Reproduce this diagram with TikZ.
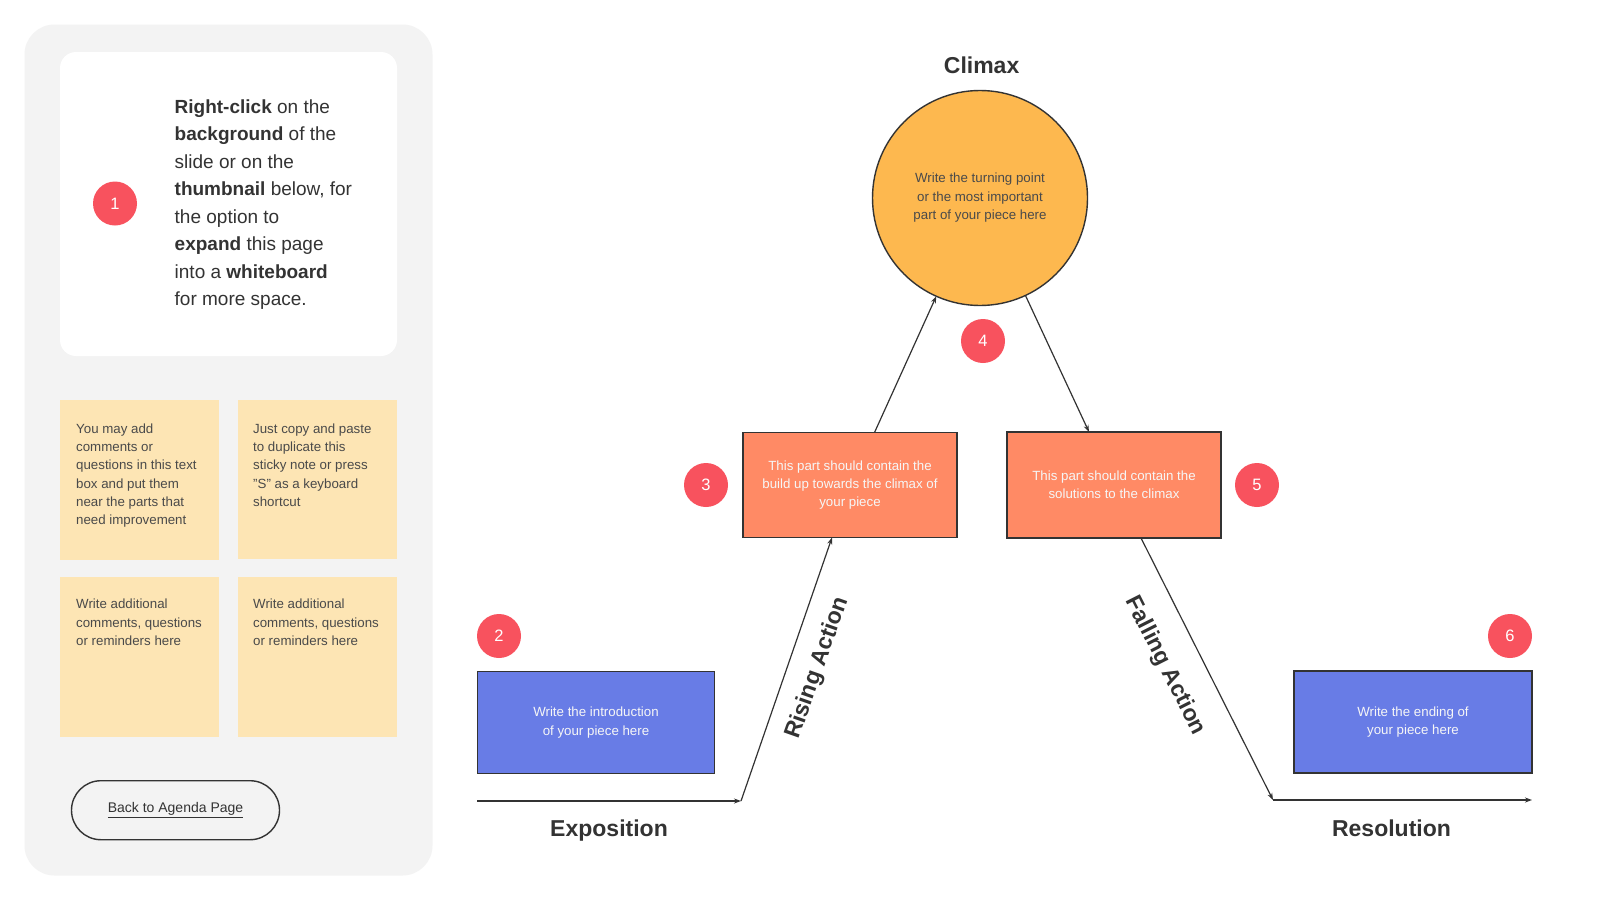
\documentclass[tikz,border=0pt]{standalone}
\usepackage{fontspec}
\setmainfont{Liberation Sans}
\usetikzlibrary{arrows.meta}
\definecolor{panel}{HTML}{F3F3F3}
\definecolor{sticky}{HTML}{FDE5B4}
\definecolor{numred}{HTML}{F8525E}
\definecolor{coral}{HTML}{FF8A65}
\definecolor{blueb}{HTML}{687CE6}
\definecolor{gold}{HTML}{FDB84F}
\definecolor{ink}{HTML}{333333}
\definecolor{soft}{HTML}{4A4A4A}
\definecolor{paletext}{HTML}{F6F6F6}
\begin{document}
\begin{tikzpicture}[x=1pt,y=-1pt,
  num/.style={circle,fill=numred,text=white,minimum size=44pt,inner sep=0,font=\fontsize{16.5}{18}\selectfont},
  partbox/.style={draw=ink,line width=1.4pt,inner sep=0,outer sep=0,text=paletext,align=center,font=\fontsize{13.3}{18.4}\selectfont},
  heading/.style={text=ink,font=\fontsize{23}{26}\selectfont\bfseries,inner sep=0},
  note/.style={fill=sticky,inner sep=0,outer sep=0,anchor=north west,minimum width=159pt,minimum height=160pt},
  notetext/.style={text=soft,align=left,anchor=north west,inner sep=0,font=\fontsize{13.3}{18.3}\selectfont},
  arr/.style={draw=ink,line width=1.2pt,-{Stealth[length=7pt,width=5pt]}},
]
\useasboundingbox (0,0) rectangle (1600,900);
\fill[white] (0,0) rectangle (1600,900);

% left panel
\fill[panel,rounded corners=30pt] (24.5,24.5) rectangle (432.5,875.5);
\fill[white,rounded corners=16pt] (60,52) rectangle (397,356);
\node[num] (n1) at (115,203.5) {1};
\node[text=ink,align=left,anchor=north west,inner sep=0,font=\fontsize{19}{27.5}\selectfont] (instr) at (174.5,99.5)
 {\textbf{Right-click} on the\\ \textbf{background} of the\\ slide or on the\\ \textbf{thumbnail} below, for\\ the option to\\ \textbf{expand} this page\\ into a \textbf{whiteboard}\\ for more space.};

\node[note] (s1) at (60,400) {};
\node[note,minimum height=159pt] (s2) at (238,400) {};
\node[note] (s3) at (60,576.5) {};
\node[note] (s4) at (238,576.5) {};
\node[notetext] (t1) at (76,423.5) {You may add\\ comments or\\ questions in this text\\ box and put them\\ near the parts that\\ need improvement};
\node[notetext] (t2) at (253,423.5) {Just copy and paste\\ to duplicate this\\ sticky note or press\\ "S" as a keyboard\\ shortcut};
\node[notetext] (t3) at (76,599) {Write additional\\ comments, questions\\ or reminders here};
\node[notetext] (t4) at (253,599) {Write additional\\ comments, questions\\ or reminders here};

\node[draw=ink,line width=1.4pt,rounded corners=29.5pt,minimum width=208pt,minimum height=59pt,inner sep=0,text=ink,font=\fontsize{14}{16}\selectfont] (back) at (175.5,810.2) {\underline{Back to Agenda Page}};

% diagram
\node[heading,anchor=base] (hclimax) at (981.6,73.3) {Climax};
\node[circle,draw=ink,line width=1.4pt,fill=gold,minimum size=215pt,inner sep=0,outer sep=0,text=soft,align=center,font=\fontsize{13.3}{18.5}\selectfont] (climax) at (980,198) {Write the turning point\\ or the most important\\ part of your piece here};
\node[num] (n4) at (983,341) {4};

\node[partbox,fill=coral,minimum width=214pt,minimum height=105pt] (box3) at (850,485) {This part should contain the\\ build up towards the climax of\\ your piece};
\node[partbox,fill=coral,minimum width=214pt,minimum height=106pt] (box5) at (1114,485) {This part should contain the\\ solutions to the climax};
\node[num] (n3) at (706,485) {3};
\node[num] (n5) at (1257,485) {5};

\node[partbox,fill=blueb,minimum width=237pt,minimum height=102pt] (box2) at (596,722.5) {Write the introduction\\ of your piece here};
\node[partbox,fill=blueb,minimum width=238pt,minimum height=102pt] (box6) at (1413,722) {Write the ending of\\ your piece here};
\node[num] (n2) at (499,636) {2};
\node[num] (n6) at (1510,636) {6};

\coordinate (e0) at (477,801);
\coordinate (e1) at (741,801);
\coordinate (f1) at (1273,800);
\coordinate (f2) at (1532,800);

\draw[arr] (e0) -- (e1);
\draw[arr] (e1) -- ([xshift=-18pt]box3.south);
\draw[arr] ([xshift=24.5pt]box3.north) -- (climax.246);
\draw[arr] (climax.295) -- ([xshift=-25pt]box5.north);
\draw[arr] ([xshift=27pt]box5.south) -- (f1);
\draw[arr] (f1) -- (f2);

\node[heading,anchor=base] (hexpo) at (609,836.7) {Exposition};
\node[heading,anchor=base] (hreso) at (1391.5,836.7) {Resolution};
\node[heading,rotate=70.6] (hrise) at (818,668) {Rising Action};
\node[heading,rotate=-63.2] (hfall) at (1165,666) {Falling Action};
\end{tikzpicture}
\end{document}
